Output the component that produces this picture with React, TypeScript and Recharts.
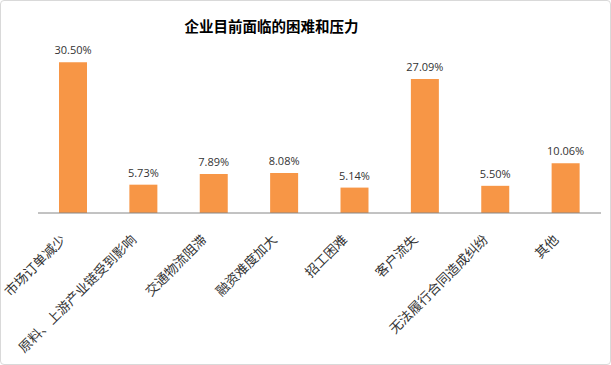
import React from 'react';
import { BarChart, Bar, XAxis, YAxis, LabelList } from 'recharts';

const categories = [
  '市场订单减少',
  '原料、上游产业链受到影响',
  '交通物流阻滞',
  '融资难度加大',
  '招工困难',
  '客户流失',
  '无法履行合同造成纠纷',
  '其他',
];
const shares = [30.5, 5.73, 7.89, 8.08, 5.14, 27.09, 5.5, 10.06];

const data = categories.map((name, i) => ({ name, value: shares[i] }));

function SlantTick(props: any) {
  const { x, y, payload } = props;
  return (
    <g transform={`translate(${x - 9},${y + 17})`}>
      <text
        transform="rotate(-45)"
        textAnchor="end"
        dominantBaseline="middle"
        fontSize={13.3}
        fill="#333"
        fontFamily="'Noto Sans CJK SC', sans-serif"
      >
        {payload.value}
      </text>
    </g>
  );
}

export default function App() {
  return (
    <div
      style={{
        position: 'absolute',
        left: 0,
        top: 0,
        width: 609,
        height: 363,
        background: '#fff',
        border: '1px solid #d9d9d9',
        borderRadius: 4,
      }}
    >
      <div
        style={{
          position: 'absolute',
          left: 183,
          top: 14,
          width: 175,
          textAlign: 'center',
          fontFamily: "'Noto Sans CJK SC', sans-serif",
          fontWeight: 700,
          fontSize: 14.5,
          color: '#000',
          whiteSpace: 'nowrap',
        }}
      >
        企业目前面临的困难和压力
      </div>
      <BarChart
        width={609}
        height={363}
        data={data}
        margin={{ top: 39, right: 9, left: 37, bottom: 0 }}
      >
        <XAxis
          dataKey="name"
          interval={0}
          height={151}
          tickLine={false}
          axisLine={{ stroke: '#868686' }}
          tick={<SlantTick />}
        />
        <YAxis hide domain={[0, 35]} />
        <Bar dataKey="value" fill="#F79646" barSize={28} isAnimationActive={false}>
          <LabelList
            dataKey="value"
            position="top"
            offset={8}
            formatter={(v: any) => `${Number(v).toFixed(2)}%`}
            style={{ fontSize: 11, fill: '#333', fontFamily: "'Open Sans', sans-serif" }}
          />
        </Bar>
      </BarChart>
    </div>
  );
}
